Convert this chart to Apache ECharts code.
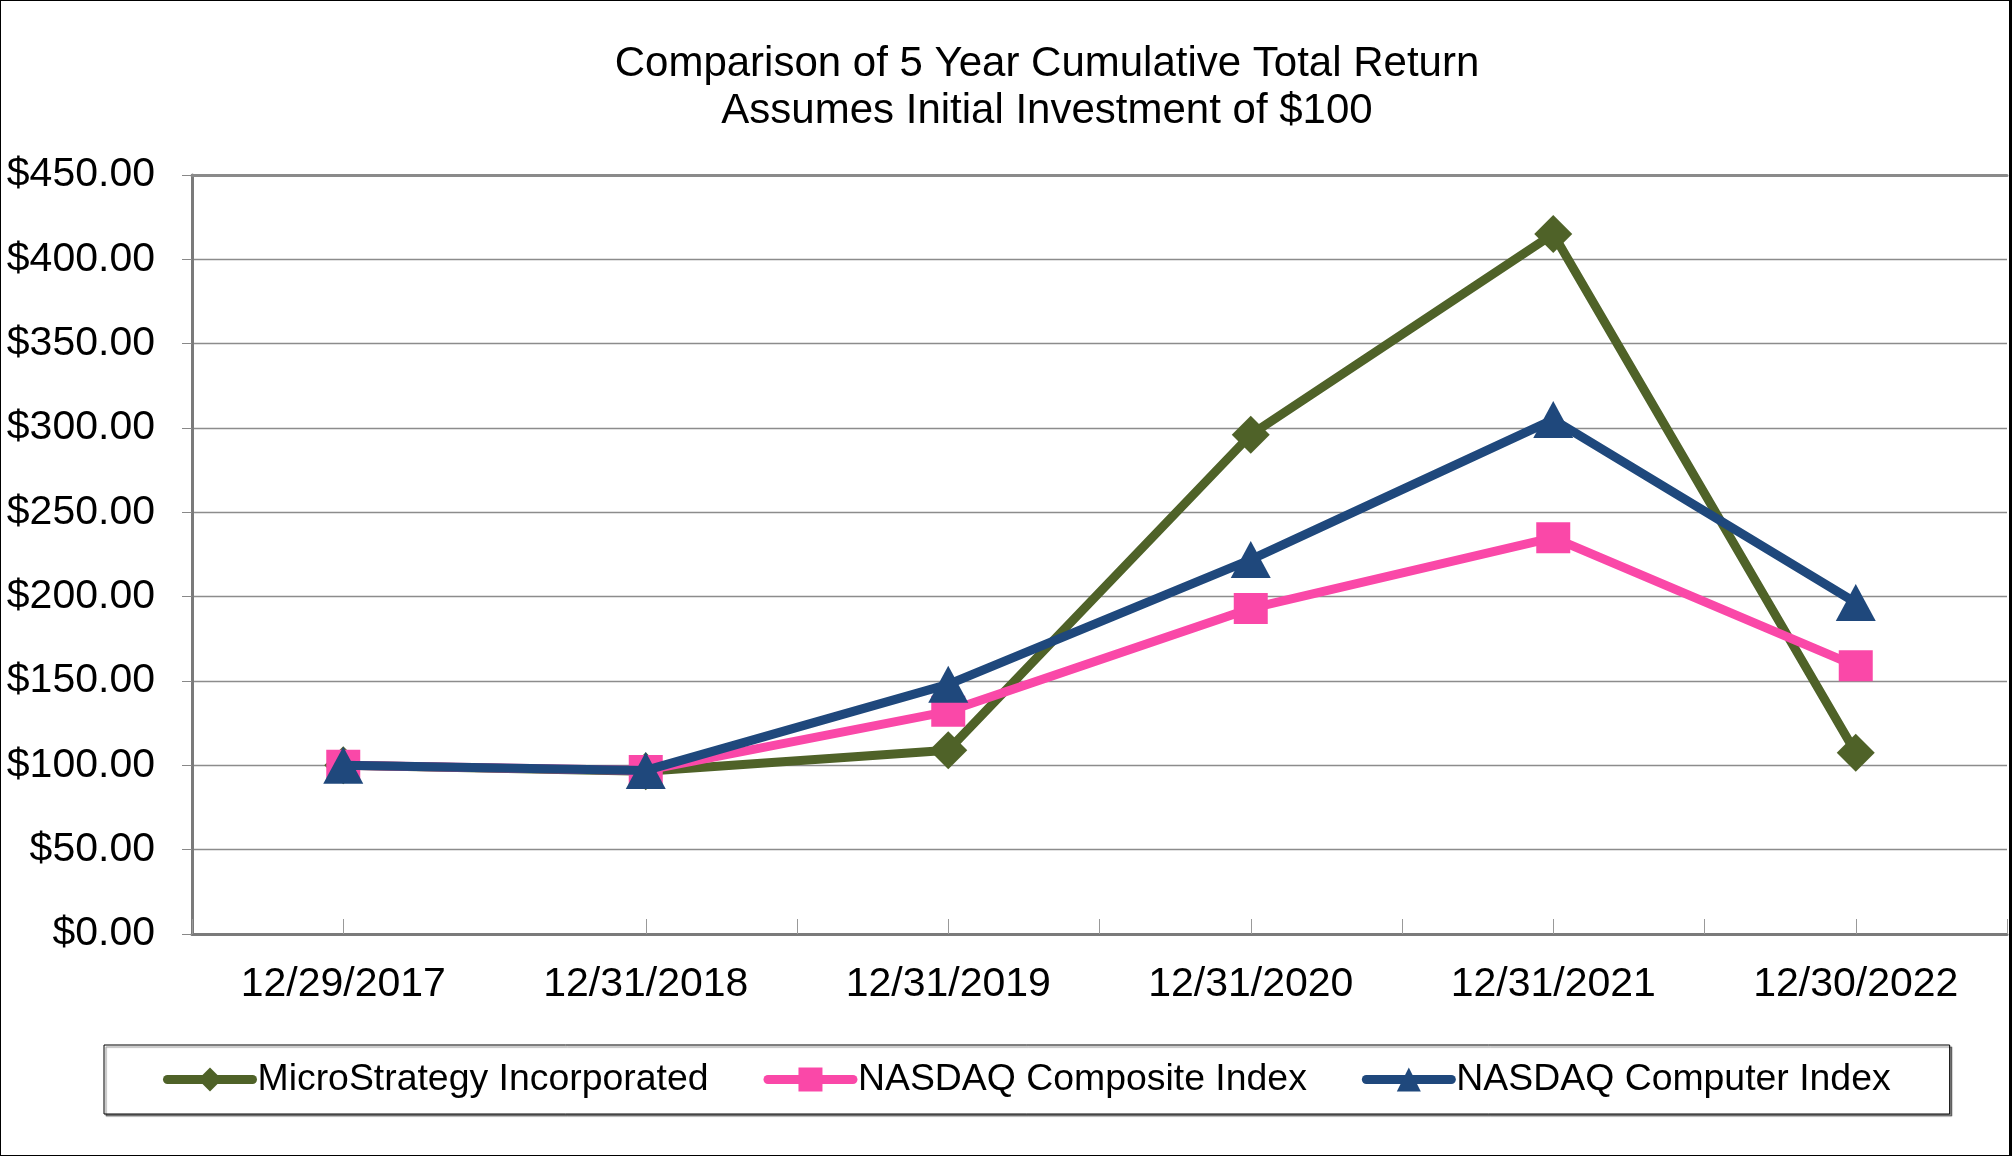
<!DOCTYPE html>
<html>
<head>
<meta charset="utf-8">
<script src="https://cdn.jsdelivr.net/npm/echarts@6/dist/echarts.min.js"></script>
<style>
html,body{margin:0;padding:0;background:#fff;}
#frame{width:2012px;height:1156px;box-sizing:border-box;border:1px solid #000;border-right-width:3px;position:relative;}
#chart{width:100%;height:100%;}
</style>
</head>
<body>
<div id="frame"><div id="chart"></div></div>
<script>
const categories = ['12/29/2017','12/31/2018','12/31/2019','12/31/2020','12/31/2021','12/30/2022'];
const microStrategy = [100, 96.5, 109, 296, 415, 107.5];
const nasdaqComposite = [100, 97, 132, 193, 235, 159];
const nasdaqComputer = [100, 97, 148, 222, 305, 196.5];
const yTicks = {min: 0, max: 450, step: 50};
const seriesNames = ['MicroStrategy Incorporated','NASDAQ Composite Index','NASDAQ Computer Index'];

const FONT = "'Liberation Sans', Arial, sans-serif";
const chart = echarts.init(document.getElementById('chart'));
const axisGrey = '#7a7a7a';

const option = {
  animation: false,
  backgroundColor: '#fff',
  title: {
    text: 'Comparison of 5 Year Cumulative Total Return\nAssumes Initial Investment of $100',
    left: 1046,
    textAlign: 'center',
    top: 40,
    padding: 0,
    textStyle: {fontFamily: FONT, fontSize: 42, fontWeight: 'normal', color: '#000', lineHeight: 47}
  },
  legend: {
    data: seriesNames,
    left: 103,
    top: 1044,
    padding: [16, 59, 16, 59],
    itemWidth: 85,
    itemHeight: 30,
    itemGap: 55,
    borderColor: '#000',
    borderWidth: 1,
    backgroundColor: '#fff',
    shadowColor: 'rgba(0,0,0,0.45)',
    shadowOffsetX: 2,
    shadowOffsetY: 2,
    shadowBlur: 1,
    lineStyle: {width: 9, cap: 'round'},
    textStyle: {fontFamily: FONT, fontSize: 37.4, color: '#000'}
  },
  grid: {left: 191, right: 2, top: 174, bottom: 221, containLabel: false},
  xAxis: [
    {
      type: 'category',
      data: categories,
      boundaryGap: true,
      axisLine: {show: true, lineStyle: {color: axisGrey, width: 3}},
      axisTick: {show: true, inside: true, length: 15, interval: function (i) { return i !== 1; }, lineStyle: {color: '#999', width: 1}},
      axisLabel: {fontFamily: FONT, fontSize: 41, color: '#000', margin: 30, interval: 0},
      splitLine: {show: false}
    },
    {
      type: 'category',
      data: categories,
      boundaryGap: true,
      position: 'bottom',
      axisLine: {show: false},
      axisTick: {show: true, inside: true, length: 15, alignWithLabel: true, lineStyle: {color: '#999', width: 1}},
      axisLabel: {show: false},
      splitLine: {show: false}
    },
    {
      type: 'category',
      data: categories,
      position: 'top',
      axisLine: {show: true, lineStyle: {color: '#8a8a8a', width: 3}},
      axisTick: {show: false},
      axisLabel: {show: false},
      splitLine: {show: false}
    }
  ],
  yAxis: {
    type: 'value',
    min: yTicks.min,
    max: yTicks.max,
    interval: yTicks.step,
    axisLine: {show: true, lineStyle: {color: axisGrey, width: 3}},
    axisTick: {show: true, inside: false, length: 10, lineStyle: {color: '#888', width: 1}},
    axisLabel: {fontFamily: FONT, fontSize: 41, color: '#000', margin: 37,
      formatter: function (v) { return '$' + v.toFixed(2); }},
    splitLine: {show: true, lineStyle: {color: '#8c8c8c', width: 1.3}}
  },
  series: [
    {
      name: seriesNames[0], type: 'line', data: microStrategy, xAxisIndex: 0,
      symbol: 'diamond', symbolSize: [38, 38],
      lineStyle: {color: '#4F6228', width: 9},
      itemStyle: {color: '#4F6228'}, z: 3
    },
    {
      name: seriesNames[1], type: 'line', data: nasdaqComposite, xAxisIndex: 0,
      symbol: 'rect', symbolSize: [34, 31],
      lineStyle: {color: '#FA48A8', width: 9},
      itemStyle: {color: '#FA48A8'}, z: 4
    },
    {
      name: seriesNames[2], type: 'line', data: nasdaqComputer, xAxisIndex: 0,
      symbol: 'triangle', symbolSize: [40, 37],
      lineStyle: {color: '#1F487C', width: 9},
      itemStyle: {color: '#1F487C'}, z: 5
    }
  ]
};
chart.setOption(option);
</script>
</body>
</html>
